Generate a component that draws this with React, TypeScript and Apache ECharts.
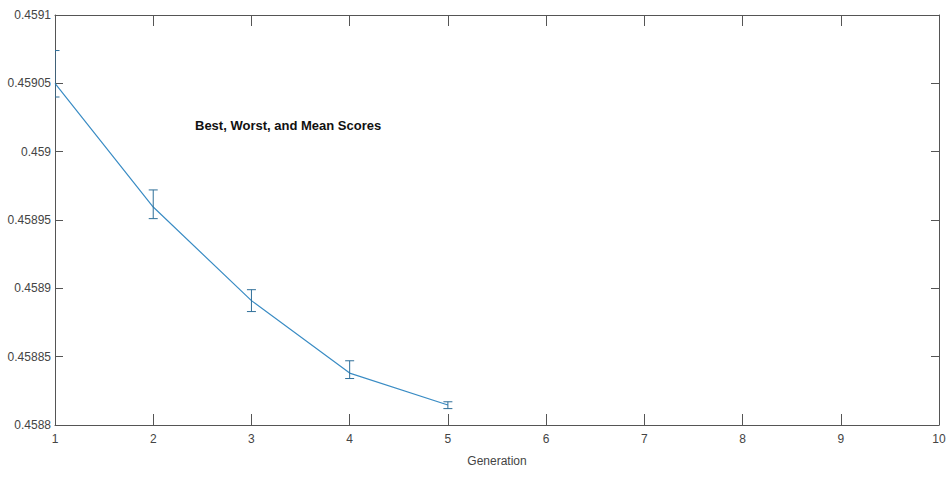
import React, { useEffect, useRef } from "react";
import * as echarts from "echarts";

const generations = [1, 2, 3, 4, 5];
const meanScores = [0.45905, 0.4589595, 0.458891, 0.458838, 0.4588146];
const lowerScores = [0.45904, 0.458951, 0.458883, 0.458834, 0.458812];
const upperScores = [0.459074, 0.458972, 0.458899, 0.458847, 0.458817];
const yTicks = [0.4588, 0.45885, 0.4589, 0.45895, 0.459, 0.45905, 0.4591];
const titleText = "Best, Worst, and Mean Scores";
const xName = "Generation";

const LINE = "#3a8cc4";
const BAR = "#2f6f99";
const AXIS = "#555555";
const LABEL = "#444444";
const FONT = "Liberation Sans, Arial, sans-serif";

export default function App() {
  const ref = useRef<HTMLDivElement>(null);
  useEffect(() => {
    if (!ref.current) return;
    const chart = echarts.init(ref.current, null, { renderer: "svg" });
    const fmt = (v: number) => {
      const found = yTicks.find((t) => Math.abs(t - v) < 1e-9);
      return found !== undefined ? String(found) : "";
    };
    const axisCommon = {
      axisLine: { show: true, lineStyle: { color: AXIS, width: 1 } },
      splitLine: { show: false },
    };
    chart.setOption({
      animation: false,
      backgroundColor: "#ffffff",
      textStyle: { fontFamily: FONT },
      grid: { left: 55, top: 15, width: 884, height: 410, containLabel: false },
      graphic: [
        {
          type: "text",
          left: 195,
          top: 119,
          style: {
            text: titleText,
            font: "bold 13px " + FONT,
            fill: "#111111",
          },
        },
      ],
      xAxis: [
        {
          type: "value",
          min: 1,
          max: 10,
          interval: 1,
          position: "bottom",
          name: xName,
          nameLocation: "middle",
          nameGap: 30,
          nameTextStyle: { color: LABEL, fontSize: 12, fontFamily: FONT },
          ...axisCommon,
          axisTick: { show: true, inside: true, length: 11, lineStyle: { color: AXIS } },
          axisLabel: { color: LABEL, fontSize: 12, margin: 8, fontFamily: FONT },
        },
        {
          type: "value",
          min: 1,
          max: 10,
          interval: 1,
          position: "top",
          ...axisCommon,
          axisTick: { show: true, inside: true, length: 11, lineStyle: { color: AXIS } },
          axisLabel: { show: false },
        },
      ],
      yAxis: [
        {
          type: "value",
          min: yTicks[0],
          max: yTicks[yTicks.length - 1],
          interval: 0.00005,
          position: "left",
          ...axisCommon,
          axisTick: { show: true, inside: true, length: 8, lineStyle: { color: AXIS } },
          axisLabel: { color: LABEL, fontSize: 12, margin: 4, fontFamily: FONT, formatter: fmt },
        },
        {
          type: "value",
          min: yTicks[0],
          max: yTicks[yTicks.length - 1],
          interval: 0.00005,
          position: "right",
          ...axisCommon,
          axisTick: { show: true, inside: true, length: 8, lineStyle: { color: AXIS } },
          axisLabel: { show: false },
        },
      ],
      series: [
        {
          type: "line",
          xAxisIndex: 0,
          yAxisIndex: 0,
          data: generations.map((g, i) => [g, meanScores[i]]),
          showSymbol: false,
          symbol: "none",
          lineStyle: { color: LINE, width: 1.2 },
          itemStyle: { color: LINE },
          clip: true,
          z: 2,
        },
        {
          type: "custom",
          xAxisIndex: 0,
          yAxisIndex: 0,
          clip: true,
          data: generations.map((g, i) => [g, lowerScores[i], upperScores[i]]),
          renderItem: (params: any, api: any) => {
            const x = api.value(0);
            const top = api.coord([x, api.value(2)]);
            const bot = api.coord([x, api.value(1)]);
            const hw = 4.5;
            const style = { stroke: BAR, lineWidth: 1 };
            return {
              type: "group",
              children: [
                { type: "line", shape: { x1: top[0], y1: top[1], x2: bot[0], y2: bot[1] }, style },
                { type: "line", shape: { x1: top[0] - hw, y1: top[1], x2: top[0] + hw, y2: top[1] }, style },
                { type: "line", shape: { x1: bot[0] - hw, y1: bot[1], x2: bot[0] + hw, y2: bot[1] }, style },
              ],
            };
          },
          z: 3,
        },
      ],
    });
    return () => chart.dispose();
  }, []);
  return (
    <div
      ref={ref}
      style={{ position: "absolute", left: 0, top: 0, width: 950, height: 480, background: "#fff" }}
    />
  );
}
